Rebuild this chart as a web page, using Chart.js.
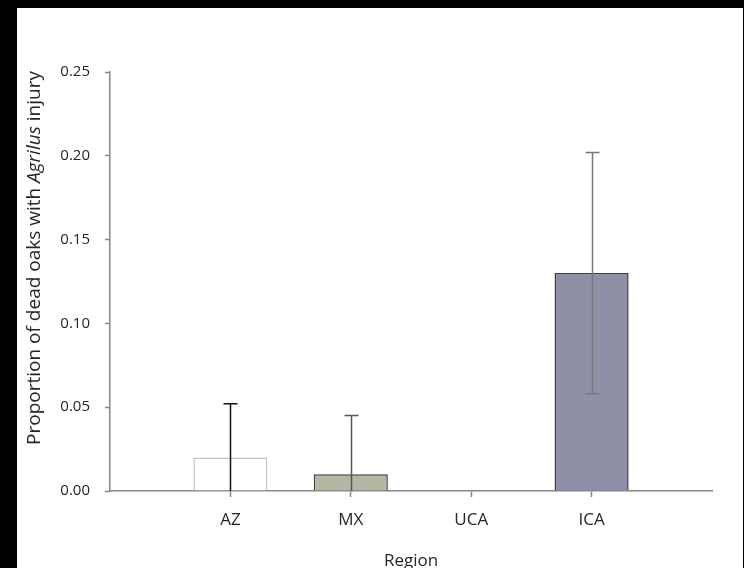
<!DOCTYPE html>
<html>
<head>
<meta charset="utf-8">
<script src="https://cdn.jsdelivr.net/npm/chart.js@4.4.1/dist/chart.umd.min.js"></script>
<style>
  html, body { margin: 0; padding: 0; background: #000; }
  #wrap { position: absolute; left: 17px; top: 8px; width: 726px; height: 560px; background: #fff; }
</style>
</head>
<body>
<div id="wrap"><canvas id="chart"></canvas></div>
<script>
// ── DATA ──
const regions = ['AZ', 'MX', 'UCA', 'ICA'];
const proportion = [0.02, 0.01, 0, 0.13];
const errHigh = [0.052, 0.045, 0, 0.202];
const errLow = [0, 0, 0, 0.058];
const yTicks = [0, 0.05, 0.10, 0.15, 0.20, 0.25];

// ── STYLE ──
const barFill = ['#ffffff', '#b5b6a4', '#8f8fa8', '#8f8fa8'];
const barEdge = ['#c3c3cf', '#3c3c3c', '#3c3c3c', '#3c3c3c'];
const errColor = ['#111111', '#555560', '#444444', '#777780'];
const axisColor = '#858585';
const textColor = '#262626';
const FONT = '"Open Sans", sans-serif';

// error bars + axis titles
const extras = {
  id: 'extras',
  afterDatasetsDraw(chart) {
    const { ctx, scales: { x, y } } = chart;
    ctx.save();
    ctx.lineWidth = 1.5;
    regions.forEach((r, i) => {
      if (errHigh[i] <= 0) return;
      const px = Math.round(x.getPixelForValue(i + 1)) + 0.5;
      const top = y.getPixelForValue(errHigh[i]);
      const bot = y.getPixelForValue(errLow[i]);
      ctx.strokeStyle = errColor[i];
      ctx.beginPath();
      ctx.moveTo(px, top);
      ctx.lineTo(px, bot);
      ctx.moveTo(px - 7, top);
      ctx.lineTo(px + 7, top);
      if (errLow[i] > 0) {
        ctx.moveTo(px - 7, bot);
        ctx.lineTo(px + 7, bot);
      }
      ctx.stroke();
    });

    ctx.fillStyle = textColor;
    ctx.font = '17px ' + FONT;
    ctx.textAlign = 'center';
    ctx.textBaseline = 'middle';
    ctx.fillText('Region', (x.left + x.right) / 2, 553);

    // y title, with italic genus name
    const parts = [
      ['Proportion of dead oaks with ', 'normal'],
      ['Agrilus', 'italic'],
      [' injury', 'normal']
    ];
    let total = 0;
    parts.forEach(p => { ctx.font = p[1] + ' 19px ' + FONT; total += ctx.measureText(p[0]).width; });
    ctx.translate(18, 250);
    ctx.rotate(-Math.PI / 2);
    ctx.textAlign = 'left';
    let cx = -total / 2;
    parts.forEach(p => {
      ctx.font = p[1] + ' 19px ' + FONT;
      ctx.fillText(p[0], cx, 0);
      cx += ctx.measureText(p[0]).width;
    });
    ctx.restore();
  }
};

new Chart(document.getElementById('chart'), {
  type: 'bar',
  data: {
    datasets: [{
      data: proportion.map((v, i) => ({ x: i + 1, y: v })),
      backgroundColor: barFill,
      borderColor: barEdge,
      borderWidth: 1.5,
      categoryPercentage: 1,
      barPercentage: 0.615
    }]
  },
  options: {
    responsive: true,
    maintainAspectRatio: false,
    animation: false,
    layout: { padding: { top: 64, right: 31, left: 0, bottom: 0 } },
    plugins: { legend: { display: false }, tooltip: { enabled: false } },
    scales: {
      x: {
        type: 'linear',
        min: 0,
        max: regions.length + 1,
        offset: false,
        afterBuildTicks: s => { s.ticks = regions.map((r, i) => ({ value: i + 1 })); },
        afterFit: s => { s.height = 77; },
        border: { display: true, color: axisColor, width: 1.5 },
        grid: { offset: false, drawOnChartArea: false, drawTicks: true, tickLength: 6, tickColor: axisColor, tickWidth: 1.5 },
        ticks: {
          color: textColor,
          font: { family: FONT, size: 17 },
          padding: 13,
          maxRotation: 0,
          callback: v => regions[v - 1]
        }
      },
      y: {
        min: 0,
        max: 0.25,
        afterBuildTicks: s => { s.ticks = yTicks.map(v => ({ value: v })); },
        afterFit: s => { s.width = 93; },
        border: { display: true, color: axisColor, width: 1.5 },
        grid: { drawOnChartArea: false, drawTicks: true, tickLength: 5, tickColor: axisColor, tickWidth: 1.5 },
        ticks: {
          color: textColor,
          font: { family: FONT, size: 15 },
          padding: 15,
          callback: v => v.toFixed(2)
        }
      }
    }
  },
  plugins: [extras]
});
</script>
</body>
</html>
